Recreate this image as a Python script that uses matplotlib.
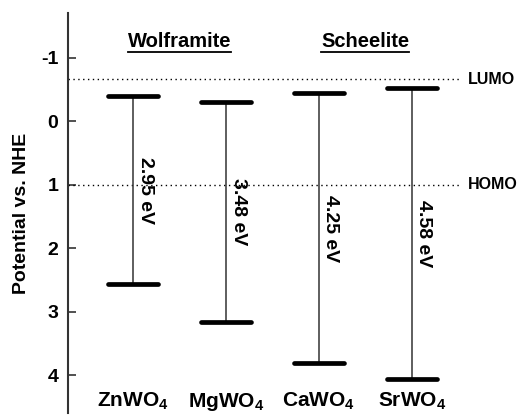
import numpy as np
import matplotlib
matplotlib.use('Agg')
import matplotlib.pyplot as plt
from matplotlib.lines import Line2D

plt.rcParams['font.family'] = ['Liberation Sans', 'DejaVu Sans']
plt.rcParams['font.weight'] = 'bold'
plt.rcParams['mathtext.fontset'] = 'custom'
plt.rcParams['mathtext.bf'] = 'Liberation Sans:bold'
plt.rcParams['mathtext.rm'] = 'Liberation Sans:bold'

#---------- data
names = ['ZnWO', 'MgWO', 'CaWO', 'SrWO']
cb_edge = [-0.40, -0.31, -0.44, -0.52]   # top bars
vb_edge = [2.57, 3.17, 3.81, 4.06]       # bottom bars
gaps = [2.95, 3.48, 4.25, 4.58]
groups = ['Wolframite', 'Scheelite']
group_x = [1.5, 3.5]
lumo = -0.66
homo = 1.0
yticks = [-1, 0, 1, 2, 3, 4]

#---------- plotting
fig = plt.figure(figsize=(5.23, 4.16), dpi=100)
ax = fig.add_axes([0.130, 0.007, 0.753, 0.962])

x = np.arange(1, len(names) + 1)
hw = 0.27

ax.axhline(lumo, color='k', linestyle=(0, (1, 2.5)), linewidth=1.0)
ax.axhline(homo, color='k', linestyle=(0, (1, 2.5)), linewidth=1.0)

ax.vlines(x, cb_edge, vb_edge, color='#333333', linewidth=1.1)
ax.hlines(cb_edge, x - hw, x + hw, color='k', linewidth=3.4, capstyle='round')
ax.hlines(vb_edge, x - hw, x + hw, color='k', linewidth=3.4, capstyle='round')

for xi, c, v, g in zip(x, cb_edge, vb_edge, gaps):
    ax.text(xi + 0.04, (c + v) / 2, '%.2f eV' % g, rotation=-90, ha='left', va='center',
            fontsize=14, fontweight='bold')

for xi, n in zip(x, names):
    ax.text(xi, 4.42, r'$\mathbf{%s_4}$' % n, ha='center', va='center', fontsize=15)

ax.text(4.6, lumo, 'LUMO', ha='left', va='center', fontsize=11.5, fontweight='bold', clip_on=False)
ax.text(4.6, homo, 'HOMO', ha='left', va='center', fontsize=11.5, fontweight='bold', clip_on=False)

titles = []
for gx, gname in zip(group_x, groups):
    titles.append(ax.text(gx, -1.18, gname, ha='center', va='baseline', fontsize=14.5, fontweight='bold'))

ax.set_xlim(0.30, 4.54)
ax.set_ylim(4.6, -1.71)
ax.set_yticks(yticks)
ax.set_yticklabels([str(t) for t in yticks])
ax.set_xticks([])
ax.tick_params(axis='y', direction='in', length=6, width=1.2, labelsize=14, pad=7, color='#333333')
for s in ['top', 'right', 'bottom']:
    ax.spines[s].set_visible(False)
ax.spines['left'].set_linewidth(1.5)
ax.spines['left'].set_color('#333333')
ax.set_ylabel('Potential vs. NHE', fontsize=14, fontweight='bold', labelpad=8)

# underline the group titles
fig.canvas.draw()
r = fig.canvas.get_renderer()
for t in titles:
    bb = t.get_window_extent(renderer=r)
    x0, x1 = bb.x0 / fig.bbox.width, bb.x1 / fig.bbox.width
    yy = (bb.y0 - 1) / fig.bbox.height
    fig.add_artist(Line2D([x0, x1], [yy, yy], color='k', linewidth=1.3))

fig.savefig('out.png', dpi=100)
